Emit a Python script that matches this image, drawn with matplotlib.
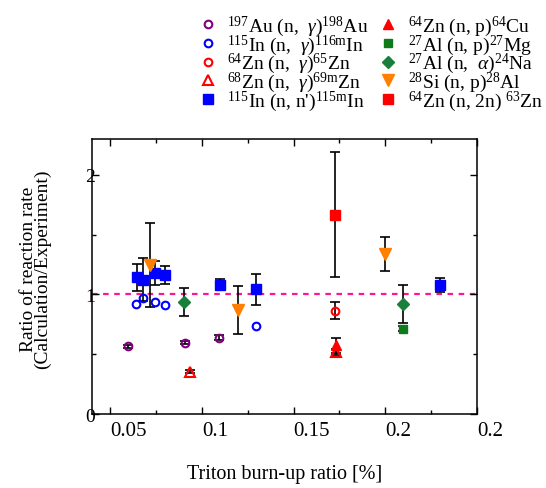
import numpy as np
import matplotlib
matplotlib.use('Agg')
import matplotlib.pyplot as plt
from matplotlib.ticker import MultipleLocator, FixedLocator

plt.rcParams['font.family'] = ['Liberation Serif', 'DejaVu Serif']
plt.rcParams['mathtext.fontset'] = 'custom'
plt.rcParams['mathtext.rm'] = 'Liberation Serif'
plt.rcParams['mathtext.it'] = 'Liberation Serif:italic'

# --- data ---
au_x = [0.0596, 0.0906, 0.1093]
au_y = [0.568, 0.597, 0.639]
au_e = [0.012, 0.012, 0.02]

in_g_x = [0.0642, 0.0678, 0.0746, 0.0796, 0.1297]
in_g_y = [0.917, 0.973, 0.934, 0.911, 0.737]

zn64g_x = [0.1726]
zn64g_y = [0.863]
zn64g_e = [0.07]

zn68g_x = [0.0937, 0.1730]
zn68g_y = [0.354, 0.517]
zn68g_e = [0.012, 0.025]

in_n_x = [0.0647, 0.0678, 0.0746, 0.0796, 0.1097, 0.1297, 0.2298]
in_n_y = [1.142, 1.122, 1.179, 1.159, 1.080, 1.044, 1.078]
in_n_e = [0.11, 0.18, 0.10, 0.075, 0.045, 0.13, 0.058]

zn_p_x = [0.1730]
zn_p_y = [0.574]
zn_p_e = [0.065]

al_p_x = [0.2098]
al_p_y = [0.715]
al_p_e = [0.02]

al_a_x = [0.0900, 0.2098]
al_a_y = [0.937, 0.917]
al_a_e = [0.115, 0.16]

si_p_x = [0.0718, 0.1199, 0.2000]
si_p_y = [1.249, 0.869, 1.339]
si_p_e = [0.35, 0.20, 0.14]

zn_2n_x = [0.1726]
zn_2n_y = [1.668]
zn_2n_e = [0.52]

labels = [
    r'$^{197}$Au (n,  $\gamma$)$^{198}$Au',
    r'$^{115}$In (n,  $\gamma$)$^{116\mathrm{m}}$In',
    r'$^{64}$Zn (n,  $\gamma$)$^{65}$Zn',
    r'$^{68}$Zn (n,  $\gamma$)$^{69\mathrm{m}}$Zn',
    r"$^{115}$In (n, n')$^{115\mathrm{m}}$In",
    r'$^{64}$Zn (n, p)$^{64}$Cu',
    r'$^{27}$Al (n, p)$^{27}$Mg',
    r'$^{27}$Al (n,  $\alpha$)$^{24}$Na',
    r'$^{28}$Si (n, p)$^{28}$Al',
    r'$^{64}$Zn (n, 2n) $^{63}$Zn',
]

fig = plt.figure(figsize=(5.46, 4.89), dpi=100)
ax = fig.add_axes([0.1685, 0.1513, 0.7051, 0.5624])

ax.axhline(1.0, color='#ff1493', ls=(0, (2.5, 2.5)), lw=1.6, zorder=1)

eb = dict(fmt='none', ecolor='black', elinewidth=1.2, capsize=3.5, capthick=1.2, zorder=2)
ax.errorbar(au_x, au_y, yerr=au_e, **eb)
ax.errorbar(zn64g_x, zn64g_y, yerr=zn64g_e, **eb)
ax.errorbar(zn68g_x, zn68g_y, yerr=zn68g_e, **eb)
ax.errorbar(in_n_x, in_n_y, yerr=in_n_e, **eb)
ax.errorbar(zn_p_x, zn_p_y, yerr=zn_p_e, **eb)
ax.errorbar(al_p_x, al_p_y, yerr=al_p_e, **eb)
ax.errorbar(al_a_x, al_a_y, yerr=al_a_e, **eb)
ax.errorbar(si_p_x, si_p_y, yerr=si_p_e, **eb)
ax.errorbar(zn_2n_x, zn_2n_y, yerr=zn_2n_e, **eb)

h = []
h += ax.plot(au_x, au_y, 'o', ms=5.5, mfc='none', mec='#800080', mew=1.5, zorder=3)
h += ax.plot(in_g_x, in_g_y, 'o', ms=5.5, mfc='none', mec='#0000ff', mew=1.5, zorder=3)
h += ax.plot(zn64g_x, zn64g_y, 'o', ms=5.5, mfc='none', mec='#ff0000', mew=1.5, zorder=3)
h += ax.plot(zn68g_x, zn68g_y, '^', ms=7, mfc='none', mec='#ff0000', mew=1.5, zorder=3)
h += ax.plot(in_n_x, in_n_y, 's', ms=6.5, color='#0000ff', zorder=3)
h += ax.plot(zn_p_x, zn_p_y, '^', ms=7.5, color='#ff0000', zorder=3)
h += ax.plot(al_p_x, al_p_y, 's', ms=6, color='#0e7a1a', zorder=3)
h += ax.plot(al_a_x, al_a_y, 'D', ms=6.5, color='#1a7f3a', zorder=3)
h += ax.plot(si_p_x, si_p_y, 'v', ms=8, color='#ff8000', zorder=3)
h += ax.plot(zn_2n_x, zn_2n_y, 's', ms=6.5, color='#ff0000', zorder=3)

ax.set_xlim(0.04, 0.25)
ax.set_ylim(0, 2.3)
ax.xaxis.set_major_locator(FixedLocator([0.05, 0.1, 0.15, 0.2, 0.25]))
ax.set_xticklabels(['0.05', '0.1', '0.15', '0.2', '0.2'], ha='left')
ax.xaxis.set_minor_locator(FixedLocator([0.075, 0.125, 0.175, 0.225]))
ax.yaxis.set_major_locator(MultipleLocator(1))
ax.yaxis.set_minor_locator(MultipleLocator(0.5))

ax.tick_params(which='both', direction='in', top=True, right=True, width=1.0)
ax.tick_params(which='major', length=5)
ax.tick_params(which='minor', length=3)
ax.tick_params(axis='x', labelsize=15, pad=5)
ax.tick_params(axis='y', labelsize=14, pad=-2)
for s in ax.spines.values():
    s.set_linewidth(1.1)

ax.set_xlabel('Triton burn-up ratio [%]', fontsize=14.5, labelpad=17)
ax.set_ylabel('Ratio of reaction rate\n(Calculation/Experiment)', fontsize=14,
              labelpad=24, linespacing=0.78)
ax.yaxis.label.set_y(0.53)

fig.legend(h, labels, loc='upper left', bbox_to_anchor=(0.345, 0.99), ncol=2,
           frameon=False, fontsize=14, handlelength=1.0, handletextpad=0.5,
           labelspacing=-0.29, columnspacing=0.5, numpoints=1, borderaxespad=0.1)

fig.savefig('out.png', dpi=100)
